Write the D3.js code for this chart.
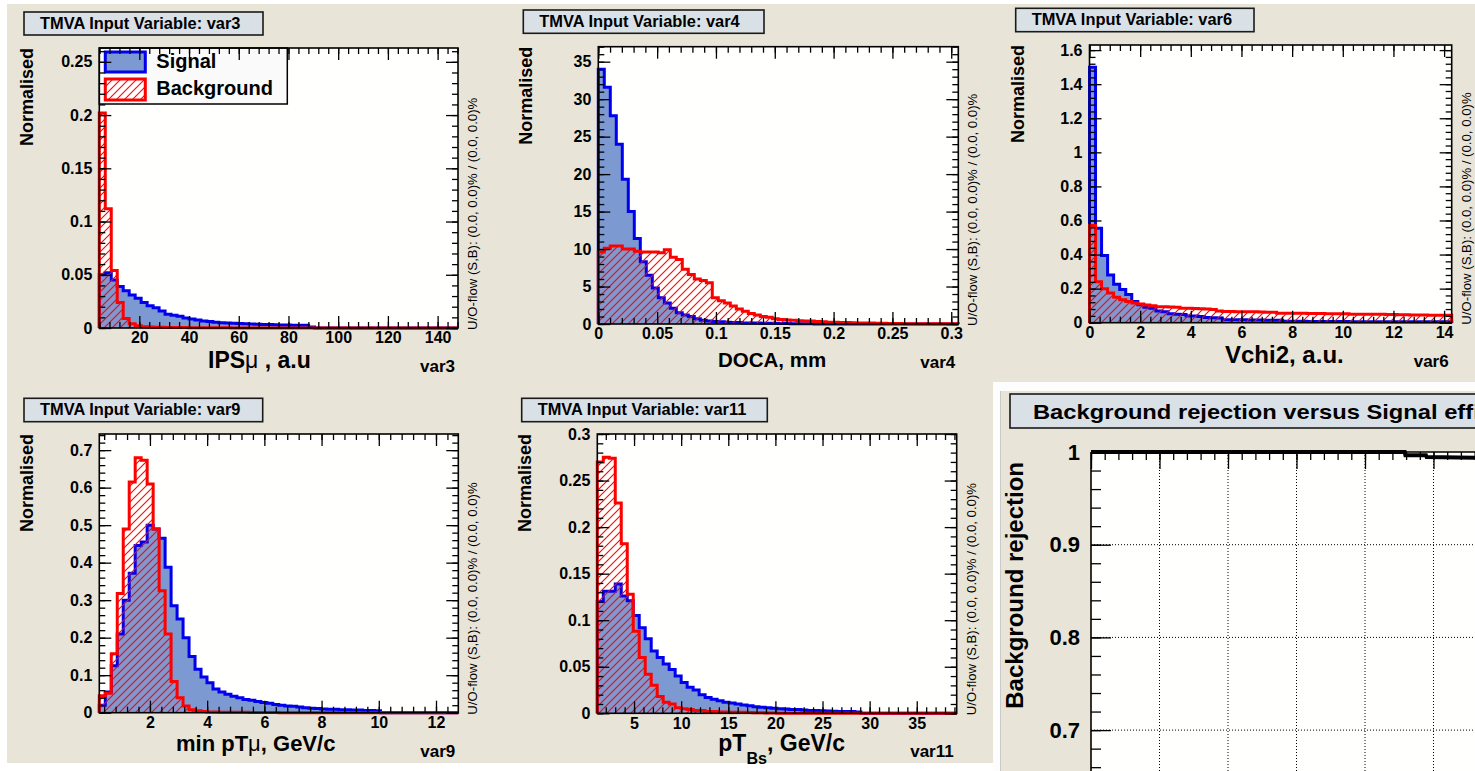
<!DOCTYPE html>
<html>
<head>
<meta charset="utf-8">
<script src="https://cdnjs.cloudflare.com/ajax/libs/d3/7.8.5/d3.min.js"></script>
<style>
body { margin: 0; background: #ffffff; }
svg { display: block; font-family: "Liberation Sans", Arial, Helvetica, sans-serif; }
</style>
</head>
<body>
<script>

// ---- data: normalised bin contents (60 bins each) ----

var var3Range = [3.9, 148.2];
var var3YMax = 0.263;
var var3XTicks = [20, 40, 60, 80, 100, 120, 140];
var var3YTicks = [0, 0.05, 0.1, 0.15, 0.2, 0.25];
var var3Signal = [0.050, 0.052, 0.045, 0.039, 0.035, 0.031, 0.028, 0.024, 0.021, 0.019,
                  0.016, 0.013, 0.012, 0.011, 0.0095, 0.0085, 0.0075, 0.0065, 0.006, 0.0055,
                  0.005, 0.0048, 0.0045, 0.0042, 0.004, 0.0038, 0.0036, 0.0034, 0.0032, 0.003,
                  0.0029, 0.0028, 0.0027, 0.0026, 0.0025, 0.001, 0, 0, 0, 0,
                  0, 0, 0, 0, 0, 0, 0, 0, 0, 0,
                  0, 0, 0, 0, 0, 0, 0, 0, 0, 0];
var var3Background = [0.202, 0.112, 0.054, 0.024, 0.009, 0.004, 0.002, 0.0012, 0.001, 0.0008,
                      0.0006, 0.0005, 0.0005, 0.0004, 0.0004, 0.0003, 0.0003, 0.0003, 0.0002, 0.0002,
                      0.0002, 0.0002, 0.0001, 0.0001, 0.0001, 0.0001, 0.0001, 0.0001, 0.0001, 0.0001,
                      0, 0, 0, 0, 0, 0, 0, 0, 0, 0,
                      0, 0, 0, 0, 0, 0, 0, 0, 0, 0,
                      0, 0, 0, 0, 0, 0, 0, 0, 0, 0];

var var4Range = [0, 0.306];
var var4YMax = 37;
var var4XTicks = [0, 0.05, 0.1, 0.15, 0.2, 0.25, 0.3];
var var4YTicks = [0, 5, 10, 15, 20, 25, 30, 35];
var var4Signal = [34.0, 31.6, 27.8, 24.0, 19.3, 15.0, 11.4, 8.3, 6.5, 4.8,
                  3.5, 2.8, 2.1, 1.5, 1.2, 1.0, 0.7, 0.5, 0.4, 0.35,
                  0.3, 0.25, 0.2, 0.2, 0.15, 0.15, 0.12, 0.1, 0.1, 0.1,
                  0.08, 0.08, 0.05, 0.05, 0.04, 0.04, 0, 0, 0, 0,
                  0, 0, 0, 0, 0, 0, 0, 0, 0, 0,
                  0, 0, 0, 0, 0, 0, 0, 0, 0, 0];
var var4Background = [9.6, 10.1, 10.4, 10.4, 10.0, 10.0, 9.7, 9.6, 9.6, 9.6,
                      9.5, 9.9, 8.9, 8.6, 7.3, 6.6, 6.0, 5.8, 5.5, 3.5,
                      3.1, 2.8, 2.4, 2.0, 1.7, 1.4, 1.2, 1.0, 0.9, 0.7,
                      0.6, 0.55, 0.5, 0.45, 0.4, 0.4, 0.35, 0.3, 0.25, 0.22,
                      0.2, 0.2, 0.18, 0.15, 0.15, 0.12, 0.1, 0.1, 0.08, 0.08,
                      0.06, 0.05, 0.05, 0.04, 0.04, 0.03, 0.03, 0.02, 0.02, 0.02];

var var6Range = [0, 14.3];
var var6YMax = 1.63;
var var6XTicks = [0, 2, 4, 6, 8, 10, 12, 14];
var var6YTicks = [0, 0.2, 0.4, 0.6, 0.8, 1, 1.2, 1.4, 1.6];
var var6Signal = [1.50, 0.555, 0.395, 0.28, 0.225, 0.195, 0.165, 0.125, 0.105, 0.09,
                  0.085, 0.068, 0.064, 0.052, 0.05, 0.048, 0.04, 0.039, 0.037, 0.03,
                  0.029, 0.028, 0.018, 0.018, 0.017, 0.017, 0.016, 0.016, 0.016, 0.015,
                  0.015, 0.014, 0.008, 0.008, 0.008, 0.008, 0.007, 0.007, 0.007, 0.007,
                  0.007, 0.007, 0.007, 0.006, 0.006, 0.006, 0.006, 0.006, 0.006, 0.006,
                  0.005, 0.005, 0.005, 0.005, 0.005, 0.005, 0.005, 0.005, 0.005, 0.005];
var var6Background = [0.57, 0.24, 0.2, 0.175, 0.15, 0.135, 0.125, 0.115, 0.11, 0.104,
                      0.1, 0.094, 0.094, 0.092, 0.09, 0.085, 0.085, 0.083, 0.082, 0.08,
                      0.078, 0.068, 0.066, 0.066, 0.065, 0.065, 0.064, 0.064, 0.063, 0.062,
                      0.062, 0.056, 0.056, 0.055, 0.055, 0.055, 0.054, 0.054, 0.054, 0.053,
                      0.053, 0.053, 0.052, 0.05, 0.05, 0.05, 0.049, 0.049, 0.049, 0.048,
                      0.048, 0.046, 0.046, 0.045, 0.045, 0.045, 0.044, 0.044, 0.044, 0.043];

var var9Range = [0.23, 12.78];
var var9YMax = 0.743;
var var9XTicks = [2, 4, 6, 8, 10, 12];
var var9YTicks = [0, 0.1, 0.2, 0.3, 0.4, 0.5, 0.6, 0.7];
var var9Signal = [0.02, 0.055, 0.125, 0.21, 0.30, 0.372, 0.446, 0.455, 0.50, 0.49,
                  0.465, 0.388, 0.285, 0.25, 0.2, 0.15, 0.116, 0.095, 0.08, 0.063,
                  0.055, 0.049, 0.044, 0.04, 0.035, 0.033, 0.03, 0.027, 0.025, 0.022,
                  0.02, 0.018, 0.017, 0.015, 0.013, 0.012, 0.011, 0.01, 0.009, 0.009,
                  0.008, 0.008, 0.007, 0.007, 0.006, 0.006, 0.005, 0, 0, 0,
                  0, 0, 0, 0, 0, 0, 0, 0, 0, 0];
var var9Background = [0.045, 0.052, 0.157, 0.318, 0.49, 0.615, 0.68, 0.673, 0.61, 0.49,
                      0.325, 0.21, 0.083, 0.04, 0.018, 0.008, 0.005, 0.003, 0.002, 0.002,
                      0.001, 0.001, 0.001, 0.001, 0.001, 0.0008, 0.0006, 0.0005, 0.0004, 0.0003,
                      0.0002, 0.0002, 0.0001, 0.0001, 0, 0, 0, 0, 0, 0,
                      0, 0, 0, 0, 0, 0, 0, 0, 0, 0,
                      0, 0, 0, 0, 0, 0, 0, 0, 0, 0];

var var11Range = [1.1, 39.24];
var var11YMax = 0.3;
var var11XTicks = [5, 10, 15, 20, 25, 30, 35];
var var11YTicks = [0, 0.05, 0.1, 0.15, 0.2, 0.25, 0.3];
var var11Signal = [0.12, 0.131, 0.131, 0.139, 0.126, 0.121, 0.105, 0.092, 0.08, 0.067,
                   0.06, 0.053, 0.047, 0.04, 0.033, 0.028, 0.025, 0.02, 0.017, 0.015,
                   0.0135, 0.012, 0.011, 0.01, 0.009, 0.008, 0.007, 0.0065, 0.006, 0.0055,
                   0.005, 0.0045, 0.004, 0.004, 0.0035, 0.003, 0.003, 0.0028, 0.0025, 0.0022,
                   0.002, 0.002, 0.0018, 0.0015, 0, 0, 0, 0, 0, 0,
                   0, 0, 0, 0, 0, 0, 0, 0, 0, 0];
var var11Background = [0.27, 0.275, 0.274, 0.226, 0.182, 0.128, 0.088, 0.06, 0.042, 0.03,
                       0.018, 0.012, 0.01, 0.006, 0.005, 0.004, 0.003, 0.003, 0.002, 0.002,
                       0.0015, 0.0015, 0.001, 0.001, 0.001, 0.0008, 0.0006, 0.0005, 0.0004, 0.0003,
                       0, 0, 0, 0, 0, 0, 0, 0, 0, 0,
                       0, 0, 0, 0, 0, 0, 0, 0, 0, 0,
                       0, 0, 0, 0, 0, 0, 0, 0, 0, 0];

// ROC curve (signal efficiency, background rejection)
var rocSigEff = [0.0, 0.10, 0.20, 0.30, 0.40, 0.458, 0.459, 0.489, 0.490, 0.60];
var rocBkgRej = [1.0, 1.0, 1.0, 1.0, 1.0, 1.0, 0.9965, 0.9965, 0.9945, 0.9935];
var rocXTicks = [0, 0.1, 0.2, 0.3, 0.4, 0.5, 0.6];
var rocYTicks = [0.7, 0.8, 0.9, 1];

var legendLabels = ["Signal", "Background"];
var overflowText = "U/O-flow (S,B): (0.0, 0.0)% / (0.0, 0.0)%";

var panels = [
  {name: "var3", xTitle: [{t: "IPS"}, {t: "μ", w: "normal"}, {t: " , a.u"}], range: var3Range, yMax: var3YMax,
   signal: var3Signal, background: var3Background, xTicks: var3XTicks, yTicks: var3YTicks, legend: true},
  {name: "var4", xTitle: [{t: "DOCA, mm"}], range: var4Range, yMax: var4YMax,
   signal: var4Signal, background: var4Background, xTicks: var4XTicks, yTicks: var4YTicks},
  {name: "var6", xTitle: [{t: "Vchi2, a.u."}], range: var6Range, yMax: var6YMax,
   signal: var6Signal, background: var6Background, xTicks: var6XTicks, yTicks: var6YTicks},
  {name: "var9", xTitle: [{t: "min pT"}, {t: "μ", w: "normal"}, {t: ", GeV/c"}], range: var9Range, yMax: var9YMax,
   signal: var9Signal, background: var9Background, xTicks: var9XTicks, yTicks: var9YTicks},
  {name: "var11", xTitle: [{t: "pT"}, {t: "Bs", sub: true}, {t: ", GeV/c"}], range: var11Range, yMax: var11YMax,
   signal: var11Signal, background: var11Background, xTicks: var11XTicks, yTicks: var11YTicks}
];

// pad geometry (pixels)
var layout = {
  var3:  {left: 99.3,   right: 458,    top: 48,   bottom: 328,   box: [24, 12, 239, 23],          xt: [208, 368, 23]},
  var4:  {left: 598.3,  right: 958.3,  top: 46.7, bottom: 324,   box: [523.3, 10, 240.7, 23.3],   xt: [718, 367, 20.5]},
  var6:  {left: 1089.5, right: 1451.7, top: 45,   bottom: 322.7, box: [1015.7, 8.3, 238.3, 23.4], xt: [1225, 362.5, 24]},
  var9:  {left: 99.3,   right: 458.3,  top: 434,  bottom: 712.7, box: [24, 398.3, 238.7, 23.4],   xt: [176, 751, 22]},
  var11: {left: 597.3,  right: 956.7,  top: 434,  bottom: 713.3, box: [521.7, 398.3, 245.6, 23.4], xt: [718.3, 751, 23]}
};

var canvasColor = "#e8e5d8";
var titleFill = "#dae1e6";
var signalFill = "#7d99d1";
var signalLine = "#0000ee";
var backgroundLine = "#ff0000";

var svg = d3.select("body").append("svg")
    .attr("width", 1475)
    .attr("height", 771);

var defs = svg.append("defs");
var hatchPattern = defs.append("pattern")
    .attr("id", "bkgHatch")
    .attr("patternUnits", "userSpaceOnUse")
    .attr("width", 8)
    .attr("height", 8);
[[-2, 2, 2, -2], [0, 8, 8, 0], [6, 10, 10, 6]].forEach(function(s) {
  hatchPattern.append("line")
      .attr("x1", s[0]).attr("y1", s[1]).attr("x2", s[2]).attr("y2", s[3])
      .style("stroke", "#ff0000")
      .style("stroke-width", "1.1px");
});

defs.append("clipPath").attr("id", "rocClip")
    .append("rect").attr("x", 993).attr("y", 382).attr("width", 482).attr("height", 389);

// canvas
svg.append("rect").attr("x", 7).attr("y", 4).attr("width", 1468).attr("height", 759).attr("fill", canvasColor);

// helpers

function stepPoints(values, range) {
  var w = (range[1] - range[0]) / values.length;
  var pts = [[range[0], 0]];
  values.forEach(function(v, i) {
    pts.push([range[0] + i * w, v]);
    pts.push([range[0] + (i + 1) * w, v]);
  });
  pts.push([range[1], 0]);
  return pts;
}

function minorTicks(domain, step) {
  var s = step / 5;
  var k0 = Math.ceil(domain[0] / s - 1e-6), k1 = Math.floor(domain[1] / s + 1e-6);
  return d3.range(k0, k1 + 1).map(function(k) { return +(k * s).toFixed(6); });
}

function styleAxis(sel, size) {
  sel.select(".domain").remove();
  sel.attr("font-family", null).attr("font-size", size).attr("font-weight", "bold").attr("color", "#000");
  sel.selectAll(".tick line").attr("stroke-width", 1.3);
}

// draws the inner ticks on all four sides of a histogram pad
function drawBoxAxes(g, x, y, L, p) {
  var xStep = p.xTicks[1] - p.xTicks[0];
  var yStep = p.yTicks[1] - p.yTicks[0];
  var xMinor = minorTicks(x.domain(), xStep);
  var yMinor = minorTicks(y.domain(), yStep);
  var fmt = function(d) { return String(d); };

  g.append("g").attr("transform", "translate(" + L.left + ",0)")
      .call(d3.axisLeft(y).tickValues(p.yTicks).tickSize(-12).tickSizeOuter(0).tickPadding(7).tickFormat(fmt))
      .call(styleAxis, 16);
  g.append("g").attr("transform", "translate(" + L.left + ",0)")
      .call(d3.axisLeft(y).tickValues(yMinor).tickSize(-6).tickSizeOuter(0).tickFormat(""))
      .call(styleAxis, 16);
  g.append("g").attr("transform", "translate(" + L.right + ",0)")
      .call(d3.axisRight(y).tickValues(p.yTicks).tickSize(-12).tickSizeOuter(0).tickFormat(""))
      .call(styleAxis, 16);
  g.append("g").attr("transform", "translate(" + L.right + ",0)")
      .call(d3.axisRight(y).tickValues(yMinor).tickSize(-6).tickSizeOuter(0).tickFormat(""))
      .call(styleAxis, 16);

  g.append("g").attr("transform", "translate(0," + L.bottom + ")")
      .call(d3.axisBottom(x).tickValues(p.xTicks).tickSize(-12).tickSizeOuter(0).tickPadding(4).tickFormat(fmt))
      .call(styleAxis, 16);
  g.append("g").attr("transform", "translate(0," + L.bottom + ")")
      .call(d3.axisBottom(x).tickValues(xMinor).tickSize(-6).tickSizeOuter(0).tickFormat(""))
      .call(styleAxis, 16);
  g.append("g").attr("transform", "translate(0," + L.top + ")")
      .call(d3.axisTop(x).tickValues(p.xTicks).tickSize(-12).tickSizeOuter(0).tickFormat(""))
      .call(styleAxis, 16);
  g.append("g").attr("transform", "translate(0," + L.top + ")")
      .call(d3.axisTop(x).tickValues(xMinor).tickSize(-6).tickSizeOuter(0).tickFormat(""))
      .call(styleAxis, 16);
}

function drawLegend(g, L) {
  var lg = g.append("g");
  lg.append("rect").attr("x", L.left).attr("y", L.top).attr("width", 188).attr("height", 56)
      .attr("fill", "#fafafa").attr("stroke", "#000").attr("stroke-width", 1.5);
  lg.append("rect").attr("x", L.left + 6).attr("y", L.top + 4).attr("width", 40).attr("height", 20)
      .attr("fill", signalFill).attr("stroke", signalLine).attr("stroke-width", 3);
  lg.append("rect").attr("x", L.left + 6).attr("y", L.top + 31).attr("width", 40).attr("height", 21)
      .attr("fill", "#fff");
  lg.append("rect").attr("x", L.left + 6).attr("y", L.top + 31).attr("width", 40).attr("height", 21)
      .attr("fill", "url(#bkgHatch)").attr("stroke", backgroundLine).attr("stroke-width", 3);
  lg.selectAll("text.leg").data(legendLabels).enter().append("text")
      .attr("class", "leg")
      .attr("x", L.left + 57)
      .attr("y", function(d, i) { return L.top + 20 + i * 27; })
      .attr("font-size", 20).attr("font-weight", "bold")
      .text(function(d) { return d; });
}

function drawPanel(p) {
  var L = layout[p.name];
  var g = svg.append("g");
  var x = d3.scaleLinear().domain(p.range).range([L.left, L.right]);
  var y = d3.scaleLinear().domain([0, p.yMax]).range([L.bottom, L.top]);

  // title box
  g.append("rect").attr("x", L.box[0]).attr("y", L.box[1]).attr("width", L.box[2]).attr("height", L.box[3])
      .attr("fill", titleFill).attr("stroke", "#1a1a1a").attr("stroke-width", 1.6);
  g.append("text").attr("x", L.box[0] + 16).attr("y", L.box[1] + 16.8)
      .attr("font-size", 16.4).attr("font-weight", "bold")
      .text("TMVA Input Variable: " + p.name);

  // frame
  g.append("rect").attr("x", L.left).attr("y", L.top)
      .attr("width", L.right - L.left).attr("height", L.bottom - L.top)
      .attr("fill", "#fffffd");

  var line = d3.line().x(function(d) { return x(d[0]); }).y(function(d) { return y(d[1]); });

  g.append("path").attr("d", line(stepPoints(p.signal, p.range)))
      .attr("fill", signalFill).attr("stroke", signalLine).attr("stroke-width", 3)
      .attr("stroke-linejoin", "miter");
  g.append("path").attr("d", line(stepPoints(p.background, p.range)))
      .attr("fill", "url(#bkgHatch)").attr("stroke", backgroundLine).attr("stroke-width", 3)
      .attr("stroke-linejoin", "miter");

  if (p.legend) drawLegend(g, L);

  drawBoxAxes(g, x, y, L, p);

  g.append("rect").attr("x", L.left).attr("y", L.top)
      .attr("width", L.right - L.left).attr("height", L.bottom - L.top)
      .attr("fill", "none").attr("stroke", "#000").attr("stroke-width", 1.6);

  // y title
  g.append("text")
      .attr("transform", "translate(" + (L.left - 66) + "," + L.top + ") rotate(-90)")
      .attr("text-anchor", "end").attr("font-size", 18).attr("font-weight", "bold")
      .text("Normalised");

  // x title
  var xt = g.append("text").attr("x", L.xt[0]).attr("y", L.xt[1])
      .attr("font-size", L.xt[2]).attr("font-weight", "bold");
  p.xTitle.forEach(function(seg) {
    var ts = xt.append("tspan").text(seg.t);
    if (seg.w) ts.attr("font-weight", seg.w);
    if (seg.sub) ts.attr("font-size", L.xt[2] * 0.7).attr("dy", 13);
  });
  if (p.xTitle.some(function(s) { return s.sub; })) {
    xt.selectAll("tspan").filter(function(d, i, n) { return i === n.length - 1; }).attr("dy", -13);
  }

  // variable name under the axis
  g.append("text").attr("x", L.right - 3).attr("y", L.bottom + 44)
      .attr("text-anchor", "end").attr("font-size", 17).attr("font-weight", "bold")
      .text(p.name);

  // under/overflow note
  g.append("text")
      .attr("transform", "translate(" + (L.right + 19) + "," + (L.bottom + 2) + ") rotate(-90)")
      .attr("font-size", 13.2)
      .text(overflowText);
}

panels.forEach(drawPanel);

// ---- ROC panel (partly outside the picture) ----

function drawRoc() {
  var g = svg.append("g").attr("clip-path", "url(#rocClip)");
  var x = d3.scaleLinear().domain([0, 1]).range([1091, 1776]);
  var y = d3.scaleLinear().domain([0, 1]).range([1379, 452]);

  g.append("rect").attr("x", 993).attr("y", 382).attr("width", 482).attr("height", 389).attr("fill", "#fdfdfd");
  g.append("rect").attr("x", 1001).attr("y", 391).attr("width", 474).attr("height", 380).attr("fill", canvasColor);
  g.append("line").attr("x1", 1000.5).attr("x2", 1000.5).attr("y1", 391).attr("y2", 771)
      .attr("stroke", "#c9c9c9").attr("stroke-width", 1);

  g.append("rect").attr("x", 1010).attr("y", 394).attr("width", 500).attr("height", 34)
      .attr("fill", titleFill).attr("stroke", "#1a1a1a").attr("stroke-width", 1.6);
  g.append("text")
      .attr("transform", "translate(1033,418.5) scale(1.13,1)")
      .attr("font-size", 21).attr("font-weight", "bold")
      .text("Background rejection versus Signal efficiency");

  g.append("rect").attr("x", x(0)).attr("y", y(1)).attr("width", 700).attr("height", 930).attr("fill", "#fffffd");

  // dotted grid
  g.selectAll("line.gx").data(rocXTicks.slice(1)).enter().append("line")
      .attr("x1", function(d) { return x(d); }).attr("x2", function(d) { return x(d); })
      .attr("y1", y(1)).attr("y2", 771)
      .attr("stroke", "#000").attr("stroke-width", 1).attr("stroke-dasharray", "1,2");
  g.selectAll("line.gy").data(rocYTicks.slice(0, -1)).enter().append("line")
      .attr("x1", x(0)).attr("x2", 1475)
      .attr("y1", function(d) { return y(d); }).attr("y2", function(d) { return y(d); })
      .attr("stroke", "#000").attr("stroke-width", 1).attr("stroke-dasharray", "1,2");

  var yMinor = minorTicks([0.62, 1], 0.1);
  var xMinor = minorTicks([0, 0.6], 0.1);
  g.append("g").attr("transform", "translate(" + x(0) + ",0)")
      .call(d3.axisLeft(y).tickValues(rocYTicks).tickSize(-20).tickSizeOuter(0).tickPadding(11)
            .tickFormat(function(d) { return String(d); }))
      .call(styleAxis, 22);
  g.append("g").attr("transform", "translate(" + x(0) + ",0)")
      .call(d3.axisLeft(y).tickValues(yMinor).tickSize(-10).tickSizeOuter(0).tickFormat(""))
      .call(styleAxis, 22);
  g.append("g").attr("transform", "translate(0," + y(1) + ")")
      .call(d3.axisTop(x).tickValues(rocXTicks).tickSize(-17).tickSizeOuter(0).tickFormat(""))
      .call(styleAxis, 22);
  g.append("g").attr("transform", "translate(0," + y(1) + ")")
      .call(d3.axisTop(x).tickValues(xMinor).tickSize(-8).tickSizeOuter(0).tickFormat(""))
      .call(styleAxis, 22);

  g.append("line").attr("x1", x(0)).attr("x2", x(0)).attr("y1", y(1)).attr("y2", 771)
      .attr("stroke", "#000").attr("stroke-width", 1.6);
  g.append("line").attr("x1", x(0)).attr("x2", 1475).attr("y1", y(1)).attr("y2", y(1))
      .attr("stroke", "#000").attr("stroke-width", 1.6);

  var curve = d3.line()
      .x(function(d, i) { return x(rocSigEff[i]); })
      .y(function(d) { return y(d); });
  g.append("path").attr("d", curve(rocBkgRej))
      .attr("fill", "none").attr("stroke", "#000").attr("stroke-width", 4);

  g.append("text")
      .attr("transform", "translate(1023," + 462 + ") rotate(-90)")
      .attr("text-anchor", "end").attr("font-size", 24).attr("font-weight", "bold")
      .text("Background rejection");
}

drawRoc();

</script>
</body>
</html>
